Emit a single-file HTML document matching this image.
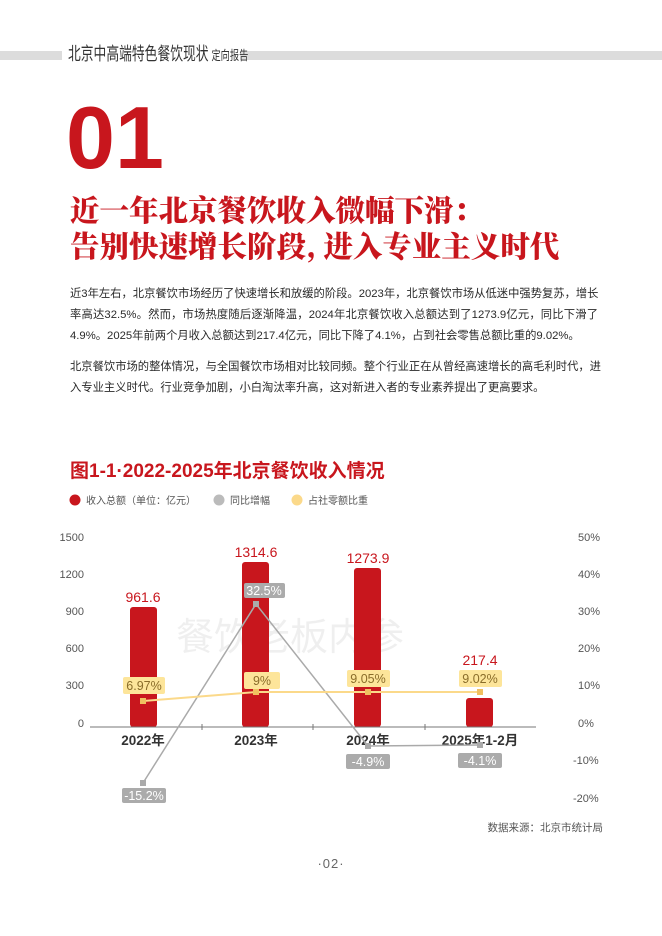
<!DOCTYPE html>
<html><head><meta charset="utf-8">
<style>
body{margin:0;background:#fff;}
.page{position:relative;width:662px;height:936px;overflow:hidden;font-family:"Liberation Sans","Noto Sans CJK SC",sans-serif;}
.p{position:absolute;left:70px;width:528px;font-size:11.3px;color:#2a2a2a;text-align:justify;text-align-last:justify;white-space:nowrap;line-height:21px;}
.p div{height:21px;}
</style></head><body><div class="page">
<div style="position:absolute;left:0;top:51px;width:662px;height:9px;background:#dcdcdc"></div>
<div style="position:absolute;left:62px;top:40px;width:178px;height:26px;background:#fff"></div>
<div style="position:absolute;left:68px;top:40px;font-size:18px;color:#333;font-family:'Noto Sans CJK SC',sans-serif;white-space:nowrap;transform:scaleX(0.71);transform-origin:0 0">北京中高端特色餐饮现状 <span style="font-size:13px">定向报告</span></div>
<div style="position:absolute;left:66px;top:88px;font-size:88px;font-weight:bold;color:#c8161d;line-height:100px;font-family:'Liberation Sans',sans-serif">01</div>
<div style="position:absolute;left:70px;top:191px;font-size:29.5px;font-weight:900;color:#c8161d;line-height:36px;font-family:'Noto Serif CJK SC','Noto Sans CJK SC',serif;white-space:nowrap">近一年北京餐饮收入微幅下滑：<br>告别快速增长阶段, 进入专业主义时代</div>
<div class="p" style="top:284px">
<div>近3年左右，北京餐饮市场经历了快速增长和放缓的阶段。2023年，北京餐饮市场从低迷中强势复苏，增长</div>
<div>率高达32.5%。然而，市场热度随后逐渐降温，2024年北京餐饮收入总额达到了1273.9亿元，同比下滑了</div>
<div style="text-align-last:left">4.9%。2025年前两个月收入总额达到217.4亿元，同比下降了4.1%，占到社会零售总额比重的9.02%。</div>
</div>
<div class="p" style="top:357px">
<div>北京餐饮市场的整体情况，与全国餐饮市场相对比较同频。整个行业正在从曾经高速增长的高毛利时代，进</div>
<div style="text-align-last:left">入专业主义时代。行业竞争加剧，小白淘汰率升高，这对新进入者的专业素养提出了更高要求。</div>
</div>
<svg style="position:absolute;left:0;top:0" width="662" height="936" font-family="Liberation Sans, Noto Sans CJK SC, sans-serif">
<text x="70" y="477" font-size="19" font-weight="bold" fill="#c8161d">图1-1·2022-2025年北京餐饮收入情况</text>
<circle cx="75" cy="500" r="5.5" fill="#c8161d"/><text x="86" y="504" font-size="10" fill="#555">收入总额（单位：亿元）</text>
<circle cx="219" cy="500" r="5.5" fill="#bbb"/><text x="230" y="504" font-size="10" fill="#555">同比增幅</text>
<circle cx="297" cy="500" r="5.5" fill="#fbd98a"/><text x="308" y="504" font-size="10" fill="#555">占社零额比重</text>
<g font-size="11" fill="#555" text-anchor="end">
<text x="84" y="541">1500</text><text x="84" y="578">1200</text><text x="84" y="615">900</text><text x="84" y="652">600</text><text x="84" y="689">300</text><text x="84" y="727">0</text>
</g>
<g font-size="11" fill="#555">
<text x="578" y="541">50%</text><text x="578" y="578">40%</text><text x="578" y="615">30%</text><text x="578" y="652">20%</text><text x="578" y="689">10%</text><text x="578" y="727">0%</text><text x="573" y="764">-10%</text><text x="573" y="802">-20%</text>
</g>
<text x="290" y="650" font-size="38" fill="#000" opacity="0.06" text-anchor="middle">餐饮老板内参</text>
<g fill="#c8161d">
<rect x="130" y="607" width="27" height="120" rx="3"/>
<rect x="242" y="562" width="27" height="165" rx="3"/>
<rect x="354" y="568" width="27" height="159" rx="3"/>
<rect x="466" y="698" width="27" height="29" rx="3"/>
</g>
<line x1="90" y1="727" x2="536" y2="727" stroke="#777" stroke-width="1"/>
<g stroke="#777"><line x1="202" y1="724" x2="202" y2="730"/><line x1="313" y1="724" x2="313" y2="730"/><line x1="425" y1="724" x2="425" y2="730"/></g>
<g font-size="14" fill="#c8161d" text-anchor="middle">
<text x="143" y="602">961.6</text><text x="256" y="557">1314.6</text><text x="368" y="563">1273.9</text><text x="480" y="665">217.4</text>
</g>
<g font-size="13.5" font-weight="bold" fill="#333" text-anchor="middle">
<text x="143" y="745">2022年</text><text x="256" y="745">2023年</text><text x="368" y="745">2024年</text><text x="480" y="745">2025年1-2月</text>
</g>
<polyline points="143,783 256,604 368,746 480,745" fill="none" stroke="#aaa" stroke-width="1.5"/>
<g fill="#aaa"><rect x="140" y="780" width="6" height="6"/><rect x="253" y="601" width="6" height="6"/><rect x="365" y="743" width="6" height="6"/><rect x="477" y="742" width="6" height="6"/></g>
<polyline points="143,701 256,692 368,692 480,692" fill="none" stroke="#fbd98a" stroke-width="2"/>
<g fill="#f0c060"><rect x="140" y="698" width="6" height="6"/><rect x="253" y="689" width="6" height="6"/><rect x="365" y="689" width="6" height="6"/><rect x="477" y="689" width="6" height="6"/></g>
<g fill="#ababab">
<rect x="244" y="583" width="41" height="15" rx="2"/><rect x="122" y="788" width="44" height="15" rx="2"/><rect x="346" y="754" width="44" height="15" rx="2"/><rect x="458" y="753" width="44" height="15" rx="2"/>
</g>
<g font-size="12.5" fill="#fff" text-anchor="middle">
<text x="264" y="595">32.5%</text><text x="144" y="800">-15.2%</text><text x="368" y="766">-4.9%</text><text x="480" y="765">-4.1%</text>
</g>
<g fill="#fde59a">
<rect x="123" y="677" width="42" height="17" rx="2"/><rect x="244" y="672" width="36" height="17" rx="2"/><rect x="347" y="670" width="43" height="17" rx="2"/><rect x="459" y="670" width="43" height="17" rx="2"/>
</g>
<g font-size="12.5" fill="#8a6d2a" text-anchor="middle">
<text x="144" y="690">6.97%</text><text x="262" y="685">9%</text><text x="368" y="683">9.05%</text><text x="480" y="683">9.02%</text>
</g>
<text x="603" y="831" font-size="10.5" fill="#555" text-anchor="end">数据来源：北京市统计局</text>
<text x="331" y="868" font-size="13" fill="#666" text-anchor="middle" letter-spacing="1">·02·</text>
</svg>
</div></body></html>
